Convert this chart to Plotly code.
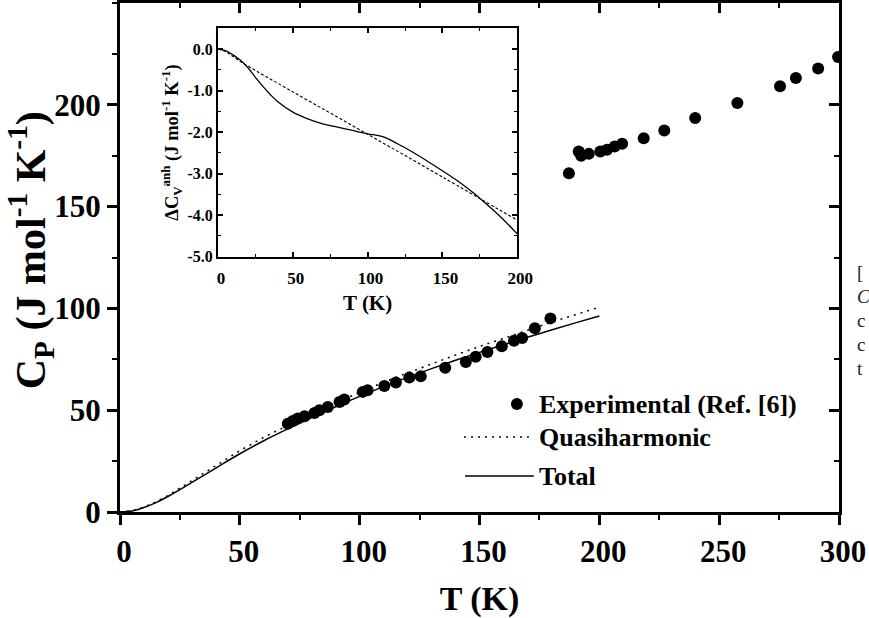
import plotly.graph_objects as go

# ---------------- data ----------------
T_exp = [70.0, 72.1, 74.2, 77.0, 81.1, 83.2, 86.7, 91.6, 93.6, 101.3, 103.3, 110.3, 115.1,
         120.7, 125.5, 135.7, 144.3, 148.4, 153.3, 159.3, 164.4, 167.8, 173.1, 179.6,
         187.3, 191.4, 192.4, 195.6, 200.4, 203.2, 206.4, 209.5, 218.5, 227.1, 240.0,
         257.6, 275.4, 282.0, 291.3, 299.6]
Cp_exp = [43.4, 44.7, 45.9, 47.0, 48.6, 50.0, 51.6, 54.0, 55.2, 59.0, 59.8, 61.9, 63.6,
          66.0, 66.7, 70.8, 73.7, 76.2, 78.6, 81.4, 84.1, 85.5, 90.2, 95.1,
          166.4, 177.1, 175.0, 175.9, 177.1, 177.9, 179.5, 180.9, 183.6, 187.4, 193.5,
          200.9, 209.1, 213.2, 217.8, 223.5]

T_calc = [0, 5, 10, 15, 20, 25, 30, 40, 50, 60, 70, 80, 90, 100, 110, 120, 130, 140,
          150, 160, 170, 180, 190, 200]
Cp_quasi = [0, 0.6, 2.4, 5.0, 8.1, 11.7, 15.4, 22.8, 30.1, 36.7, 42.7, 48.3, 53.7, 58.8,
            63.7, 68.3, 72.8, 77.1, 81.3, 85.3, 89.3, 93.2, 96.9, 100.6]
Cp_total = [0, 0.5, 2.2, 4.6, 7.6, 11.0, 14.5, 21.6, 28.6, 35.0, 40.8, 46.4, 51.7, 56.8,
            61.6, 66.1, 70.4, 74.5, 78.4, 82.1, 85.8, 89.4, 92.9, 96.3]

T_anh = [0, 5, 10, 15, 20, 25, 30, 35, 40, 50, 60, 70, 80, 90, 100, 110, 120, 130, 140,
         150, 160, 170, 180, 190, 200]
dC_anh = [0, -0.04, -0.14, -0.27, -0.45, -0.68, -0.9, -1.1, -1.27, -1.52, -1.68, -1.8,
          -1.88, -1.96, -2.04, -2.11, -2.28, -2.48, -2.7, -2.93, -3.17, -3.44, -3.75,
          -4.08, -4.45]
T_fit = [0, 5, 10, 15, 20, 50, 100, 150, 200]
dC_fit = [0, -0.06, -0.18, -0.3, -0.41, -1.03, -2.05, -3.08, -4.12]

main_x_ticks = [0, 50, 100, 150, 200, 250, 300]
main_y_ticks = [0, 50, 100, 150, 200]
inset_x_ticks = [0, 50, 100, 150, 200]
inset_y_ticks = [0, -1, -2, -3, -4, -5]
inset_y_labels = ["0.0", "-1.0", "-2.0", "-3.0", "-4.0", "-5.0"]

legend_names = ["Experimental (Ref. [6])", "Quasiharmonic", "Total"]
margin_text = ["[", "<i>C</i>", "c", "c", "t"]

# ---------------- layout helpers ----------------
W, H = 869, 618
ML, MR, MT, MB = 120, 28, 3, 106
PW, PH = W - ML - MR, H - MT - MB


def px(x):
    return (x - ML) / PW


def py(y):
    return 1 - (y - MT) / PH


SERIF = "Liberation Serif"
BLACK = "black"

fig = go.Figure()

# main traces
fig.add_trace(go.Scatter(x=T_calc, y=Cp_quasi, mode="lines", name=legend_names[1],
                         line=dict(color=BLACK, width=1.5, dash="2px,5px"), showlegend=False))
fig.add_trace(go.Scatter(x=T_calc, y=Cp_total, mode="lines", name=legend_names[2],
                         line=dict(color=BLACK, width=1.5), showlegend=False, line_shape="spline"))
fig.add_trace(go.Scatter(x=T_exp, y=Cp_exp, mode="markers", name=legend_names[0],
                         marker=dict(color=BLACK, size=12), showlegend=False))

# inset traces
fig.add_trace(go.Scatter(x=T_fit, y=dC_fit, mode="lines", xaxis="x2", yaxis="y2",
                         line=dict(color=BLACK, width=1.1, dash="3px,2px"), showlegend=False,
                         line_shape="spline"))
fig.add_trace(go.Scatter(x=T_anh, y=dC_anh, mode="lines", xaxis="x2", yaxis="y2",
                         line=dict(color=BLACK, width=1.3), showlegend=False, line_shape="spline"))

# dummy trace for mirrored inward ticks on top/right
fig.add_trace(go.Scatter(x=[], y=[], xaxis="x3", yaxis="y3", showlegend=False, hoverinfo="skip"))

big_tick = dict(family=SERIF, size=31, color=BLACK, weight="bold")
common_main = dict(showline=True, linewidth=3, linecolor=BLACK, showgrid=False, zeroline=False,
                   tickwidth=2.5, tickcolor=BLACK, ticklen=10)

fig.update_layout(
    width=W, height=H,
    margin=dict(l=ML, r=MR, t=MT, b=MB),
    paper_bgcolor="white", plot_bgcolor="white",
    xaxis=dict(domain=[0, 1], range=[0, 300], tickvals=main_x_ticks, ticks="outside",
               minor=dict(ticks="outside", ticklen=5, tickwidth=2, dtick=25, tickcolor=BLACK),
               tickfont=big_tick, ticklabelshift=4, ticklabeloverflow="allow",
               title=dict(text="T (K)", font=dict(family=SERIF, size=34, color=BLACK, weight="bold"),
                          standoff=20),
               **common_main),
    yaxis=dict(domain=[0, 1], range=[0, 250], tickvals=main_y_ticks, ticks="outside",
               minor=dict(ticks="outside", ticklen=5, tickwidth=2, dtick=25, tickcolor=BLACK),
               tickfont=big_tick,
               **common_main),
    xaxis3=dict(overlaying="x", side="top", anchor="y3", range=[0, 300], tickvals=main_x_ticks,
                ticks="inside", showticklabels=False,
                minor=dict(ticks="inside", ticklen=5, tickwidth=2, dtick=25, tickcolor=BLACK),
                **common_main),
    yaxis3=dict(overlaying="y", side="right", anchor="x3", range=[0, 250], tickvals=main_y_ticks,
                ticks="inside", showticklabels=False,
                minor=dict(ticks="inside", ticklen=5, tickwidth=2, dtick=25, tickcolor=BLACK),
                **common_main),
    xaxis2=dict(domain=[px(218.3), px(518.3)], anchor="y2", range=[0, 200],
                tickvals=inset_x_ticks, ticks="inside", ticklen=5, tickwidth=1.5, mirror="ticks",
                minor=dict(ticks="inside", ticklen=3, tickwidth=1.2, dtick=25, tickcolor=BLACK),
                showline=True, linewidth=2, linecolor=BLACK, showgrid=False, zeroline=False,
                tickcolor=BLACK, ticklabelshift=3, ticklabelstandoff=5,
                tickfont=dict(family=SERIF, size=17, color=BLACK, weight="bold"),
                title=dict(text="T (K)", font=dict(family=SERIF, size=21, color=BLACK, weight="bold"),
                           standoff=8)),
    yaxis2=dict(domain=[py(256.7), py(28.3)], anchor="x2", range=[-5, 0.5],
                tickvals=inset_y_ticks, ticktext=inset_y_labels, ticks="inside", ticklen=5,
                tickwidth=1.5, mirror="ticks",
                minor=dict(ticks="inside", ticklen=3, tickwidth=1.2, dtick=0.5, tickcolor=BLACK),
                showline=True, linewidth=2, linecolor=BLACK, showgrid=False, zeroline=False,
                tickcolor=BLACK,
                tickfont=dict(family=SERIF, size=16, color=BLACK, weight="bold"),
                title=dict(text="ΔC<sub>V</sub><sup>anh</sup> (J mol<sup>-1</sup> K<sup>-1</sup>)",
                           font=dict(family=SERIF, size=18.5, color=BLACK, weight="bold"),
                           standoff=4)),
    showlegend=False,
)

# main y-axis title (placed as a rotated annotation for exact position)
fig.add_annotation(xref="paper", yref="paper", x=px(30), y=py(250), textangle=-90,
                   text="C<sub>P</sub> (J mol<sup>-1</sup> K<sup>-1</sup>)", showarrow=False,
                   xanchor="center", yanchor="middle",
                   font=dict(family=SERIF, size=42, color=BLACK, weight="bold"))

# ---------------- hand-drawn legend (paper coordinates) ----------------
leg_font = dict(family=SERIF, size=26, color=BLACK, weight="bold")
fig.add_shape(type="circle", xref="paper", yref="paper",
              x0=px(512), x1=px(524), y0=py(410), y1=py(398),
              fillcolor=BLACK, line=dict(color=BLACK, width=0))
fig.add_shape(type="line", xref="paper", yref="paper", x0=px(465), x1=px(530),
              y0=py(437), y1=py(437), line=dict(color=BLACK, width=1.5, dash="2px,5px"))
fig.add_shape(type="line", xref="paper", yref="paper", x0=px(466), x1=px(535),
              y0=py(476), y1=py(476), line=dict(color=BLACK, width=1.5))
for name, yy in zip(legend_names, [404, 437, 476]):
    fig.add_annotation(xref="paper", yref="paper", x=px(538), y=py(yy), text=name,
                       showarrow=False, xanchor="left", yanchor="middle", font=leg_font)

# cut-off text of the neighbouring page column
for t, yy in zip(margin_text, [272, 296, 320, 344, 368]):
    fig.add_annotation(xref="paper", yref="paper", x=px(857), y=py(yy), text=t,
                       showarrow=False, xanchor="left", yanchor="middle",
                       font=dict(family=SERIF, size=19, color="#222"))

fig.write_html("out.html")
